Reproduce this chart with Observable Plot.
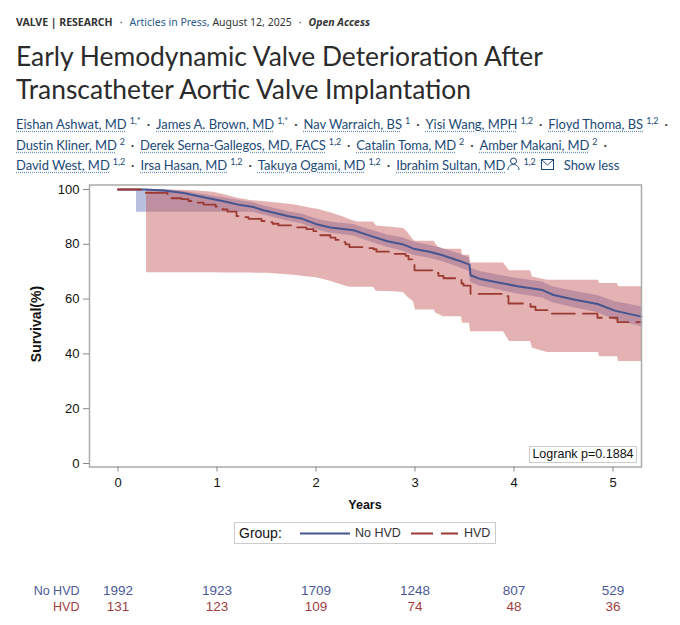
<!DOCTYPE html>
<html><head><meta charset="utf-8">
<script src="https://cdn.jsdelivr.net/npm/d3@7"></script>
<script src="https://cdn.jsdelivr.net/npm/@observablehq/plot@0.6"></script>
<style>
html,body{margin:0;padding:0;background:#fff;}
#page{position:relative;width:680px;height:625px;overflow:hidden;font-family:"Noto Sans",sans-serif;color:#222;}
.abs{position:absolute;white-space:nowrap;}
#kicker{left:16px;top:15px;font-size:10.5px;line-height:14px;color:#333;}
#kicker a{color:#2a5a8c;}
#title{left:16px;top:40px;line-height:33px;color:#2b2b2b;font-family:Lato,sans-serif;font-weight:400;font-size:26.4px;}
.authors{left:16px;font-size:13px;line-height:16px;color:#1c4a78;font-family:Lato,sans-serif;}
.authors u{text-decoration:underline dotted #6f93b5;text-underline-offset:2px;}
.authors sup{font-size:9px;line-height:0;margin-left:3px;vertical-align:5px;}
.authors .d{color:#333;margin:0 6px;}
.sas{font-family:"Liberation Sans",Arial,sans-serif;color:#111;}
#plot1,#plot2{position:absolute;left:0;}
#plot1{top:175px;}
#plot2{top:575px;}
</style></head>
<body><div id="page">
<div class="abs" id="kicker"><b>VALVE | RESEARCH</b><span style="margin:0 7px">·</span><a>Articles in Press,</a> August 12, 2025<span style="margin:0 7px">·</span><b><i>Open Access</i></b></div>
<div class="abs" id="title">Early Hemodynamic Valve Deterioration After<br>Transcatheter Aortic Valve Implantation</div>
<div class="abs authors" style="top:116px;letter-spacing:-.03px"><u>Eishan Ashwat, MD</u><sup>1,*</sup><span class="d">·</span><u>James A. Brown, MD</u><sup>1,*</sup><span class="d">·</span><u>Nav Warraich, BS</u><sup>1</sup><span class="d">·</span><u>Yisi Wang, MPH</u><sup>1,2</sup><span class="d">·</span><u>Floyd Thoma, BS</u><sup>1,2</sup><span class="d">·</span></div>
<div class="abs authors" style="top:137px;letter-spacing:-.1px"><u>Dustin Kliner, MD</u><sup>2</sup><span class="d">·</span><u>Derek Serna-Gallegos, MD, FACS</u><sup>1,2</sup><span class="d">·</span><u>Catalin Toma, MD</u><sup>2</sup><span class="d">·</span><u>Amber Makani, MD</u><sup>2</sup><span class="d">·</span></div>
<div class="abs authors" style="top:157px;letter-spacing:-.05px"><u>David West, MD</u><sup>1,2</sup><span class="d">·</span><u>Irsa Hasan, MD</u><sup>1,2</sup><span class="d">·</span><u>Takuya Ogami, MD</u><sup>1,2</sup><span class="d">·</span><u>Ibrahim Sultan, MD</u><svg width="13" height="14" viewBox="0 0 13 14" style="vertical-align:-1px;margin-left:2px" fill="none" stroke="#1c4a78"><circle cx="6.5" cy="4" r="3"/><path d="M1 13c0-4 3-5.500 5.500-5.500S12 9 12 13"/></svg><sup>1,2</sup><svg width="13" height="11" viewBox="0 0 13 11" style="margin-left:5px" fill="none" stroke="#1c4a78"><rect x=".5" y=".5" width="12" height="10"/><path d="M.5 .5l6 5.500 6-5.500"/></svg><span style="margin-left:10px">Show less</span></div>

<div id="plot1"></div>
<div id="plot2"></div>

<div class="abs sas" style="left:17px;top:324px;font-weight:bold;font-size:14px;transform:translate(-50%,-50%) rotate(-90deg);transform-origin:center;margin-left:19px">Survival(%)</div>
<div class="abs sas" style="left:365px;top:505px;font-weight:bold;font-size:12.5px;transform:translate(-50%,-50%)">Years</div>
<div class="abs sas" style="left:529px;top:446px;width:108px;height:17px;box-sizing:border-box;border:1px solid #ccc;background:#fff;font-size:12.5px;line-height:15px;text-align:center">Logrank p=0.1884</div>
<div class="abs sas" style="left:234px;top:522px;width:262px;height:22px;box-sizing:border-box;border:1px solid #ccc;background:#fff;font-size:12.5px;line-height:20px">
<span style="position:absolute;left:4px;font-size:14px">Group:</span>
<svg style="position:absolute;left:65px;top:9px" width="50" height="3"><line x1="0" x2="50" y1="1.500" y2="1.500" stroke="#46548f" stroke-width="2"/></svg>
<span style="position:absolute;left:120px;color:#333">No HVD</span>
<svg style="position:absolute;left:176px;top:9px" width="47" height="3"><line x1="0" x2="47" y1="1.500" y2="1.500" stroke="#9b3a32" stroke-width="2" stroke-dasharray="22 8"/></svg>
<span style="position:absolute;left:229px;color:#333">HVD</span>
</div>
</div>
<script>
// Kaplan-Meier estimates
const noHvdYears = [0,.278,.46,.662,.864,1.066,1.237,1.369,1.47,1.712,1.864,2.015,2.146,2.379,2.581,2.722,2.884,2.985,3.157,3.278,3.429,3.551,3.561,3.662,3.864,4.035,4.288,4.399,4.641,4.843,5.025,5.288];
const noHvdSurvival = [100,100,99.6,98.7,97.2,95.7,94.3,93.6,92.4,90.3,89.3,87.2,86.1,85.1,82.7,81.1,79.9,78.4,77.2,76,74.2,72.6,68.7,67.3,65.9,64.7,63.3,61.5,59.6,58.2,55.7,53.6];
const hvdYears = [0,.278,.5,.54,.641,.712,.803,.864,.985,1.056,1.106,1.197,1.268,1.318,1.449,1.53,1.561,1.621,1.773,1.904,1.975,2.015,2.146,2.197,2.237,2.298,2.338,2.53,2.581,2.611,2.783,2.904,2.934,2.975,2.995,3.197,3.237,3.288,3.47,3.49,3.561,3.894,3.944,4.167,4.217,4.338,4.843,5.045,5.288];
const hvdSurvival = [100,98.8,98,96.8,96.5,95.8,95.2,94.5,93.8,92.7,91.9,90.3,89.9,89.3,88.5,88.1,87.5,86.9,86.2,85.5,84.8,83.3,82.4,81.6,80.8,80,79,78.6,78.2,77.3,76.5,75.8,74.5,73.6,70.5,69.6,68.5,67.6,65.7,64.9,61.9,61.1,58.4,57.2,56,54.7,53.2,51.6,51.6];
// confidence bands
const noHvdBandYears = [.187,.46,.662,.864,1.066,1.237,1.369,1.47,1.712,1.864,2.015,2.146,2.379,2.581,2.722,2.884,2.985,3.157,3.278,3.429,3.551,3.561,3.662,3.864,4.035,4.288,4.399,4.641,4.843,5.025,5.288];
const noHvdUpper = [100,100,99.3,98.2,97,95.9,95.2,94.1,92,91,89.1,88.1,87.2,84.9,83.4,82.3,80.8,79.6,78.5,76.7,75.1,71.3,70,68.6,67.5,66.2,64.4,62.6,61.3,59,57.2];
const noHvdLower = [91.7,91.7,91.7,91.7,91.7,91.7,91.7,90.7,88.5,87.4,85.2,84,83,80.5,78.9,77.5,76,74.8,73.6,71.8,70.1,66.1,64.7,63.2,61.9,60.4,58.6,56.6,55.1,52.3,49.9];
const hvdBandYears = [.288,.732,.965,1.086,1.207,1.338,1.51,1.773,1.975,2.015,2.146,2.278,2.318,2.348,2.419,2.581,2.611,2.783,2.884,2.924,2.985,3.005,3.197,3.207,3.237,3.288,3.47,3.48,3.551,3.561,3.894,3.955,4.167,4.187,4.338,4.854,4.864,5.045,5.056,5.288];
const hvdUpper = [100,99.6,99,98,96.8,96,95.4,94.4,93,92.8,91.5,90,89.3,88.9,88.1,88.1,86.7,86.1,85.8,84.5,81.5,81.1,81.1,80.2,79,78.2,78.2,76,76,73.2,73.2,70.3,70.3,68.1,66.9,66.9,65.7,65.7,64.5,64.5];
const hvdLower = [69.6,69.6,69.6,69.5,69.5,69.5,69.4,68.7,67.9,67.7,66.5,65,64.5,64.3,64.3,64.3,62.9,62.7,62.4,60.8,59,56,56,54.9,54.5,53.6,53.6,51.2,51.2,48.1,48.1,44.5,44.5,42.1,40.5,40.5,39,39,37.2,37.2];
// numbers at risk
const riskYears = [0,1,2,3,4,5];
const noHvdRisk = ["1992","1923","1709","1248","807","529"];
const hvdRisk = ["131","123","109","74","48","36"];
const groups = ["No HVD","HVD"];

const BLUE="#46548f", RED="#9b3a32";
const xDomain=[-.288,5.288];
const font='"Liberation Sans",Arial,sans-serif';

const chart = Plot.plot({
  width:680,height:360,marginLeft:89,marginRight:39,marginTop:9.5,marginBottom:68.5,
  style:{fontFamily:font,fontSize:"13px",color:"#111",background:"transparent"},
  x:{domain:xDomain,label:null},
  y:{domain:[-1.28,101.64],label:null},
  marks:[
    Plot.areaY(noHvdBandYears,{x:noHvdBandYears,y1:noHvdLower,y2:noHvdUpper,fill:"rgb(70,90,170)",fillOpacity:.38}),
    Plot.areaY(hvdBandYears,{x:hvdBandYears,y1:hvdLower,y2:hvdUpper,fill:"rgb(195,85,85)",fillOpacity:.45}),
    Plot.line(noHvdYears,{x:noHvdYears,y:noHvdSurvival,stroke:BLUE,strokeWidth:2}),
    Plot.line(hvdYears,{x:hvdYears,y:hvdSurvival,stroke:RED,strokeWidth:1.8,curve:"step-after",strokeDasharray:"23 8"}),
    Plot.frame({stroke:"#aaa",strokeWidth:1.5}),
    Plot.axisX({ticks:riskYears,tickFormat:d=>d,tickSize:5,tickPadding:6,stroke:"#888",label:null,fontSize:13}),
    Plot.axisY({ticks:[0,20,40,60,80,100],tickSize:6,tickPadding:4,stroke:"#888",label:null,fontSize:13})
  ]
});
document.getElementById("plot1").append(chart);

const rows = riskYears.flatMap((x,i)=>[{x,g:groups[0],n:noHvdRisk[i]},{x,g:groups[1],n:hvdRisk[i]}]);
const risk = Plot.plot({
  width:680,height:45,marginLeft:89,marginRight:39,marginTop:6,marginBottom:6,
  style:{fontFamily:font,background:"transparent"},
  x:{domain:xDomain,axis:null},
  y:{domain:groups,axis:null,type:"point"},
  color:{domain:groups,range:["#4a5a96","#a04040"]},
  marks:[
    Plot.text(rows,{x:"x",y:"g",text:"n",fill:"g",fontSize:13.5}),
    Plot.text(groups,{y:d=>d,text:d=>d,fill:d=>d,frameAnchor:"left",textAnchor:"end",dx:-10,fontSize:12.5})
  ]
});
document.getElementById("plot2").append(risk);
</script>
</body></html>
